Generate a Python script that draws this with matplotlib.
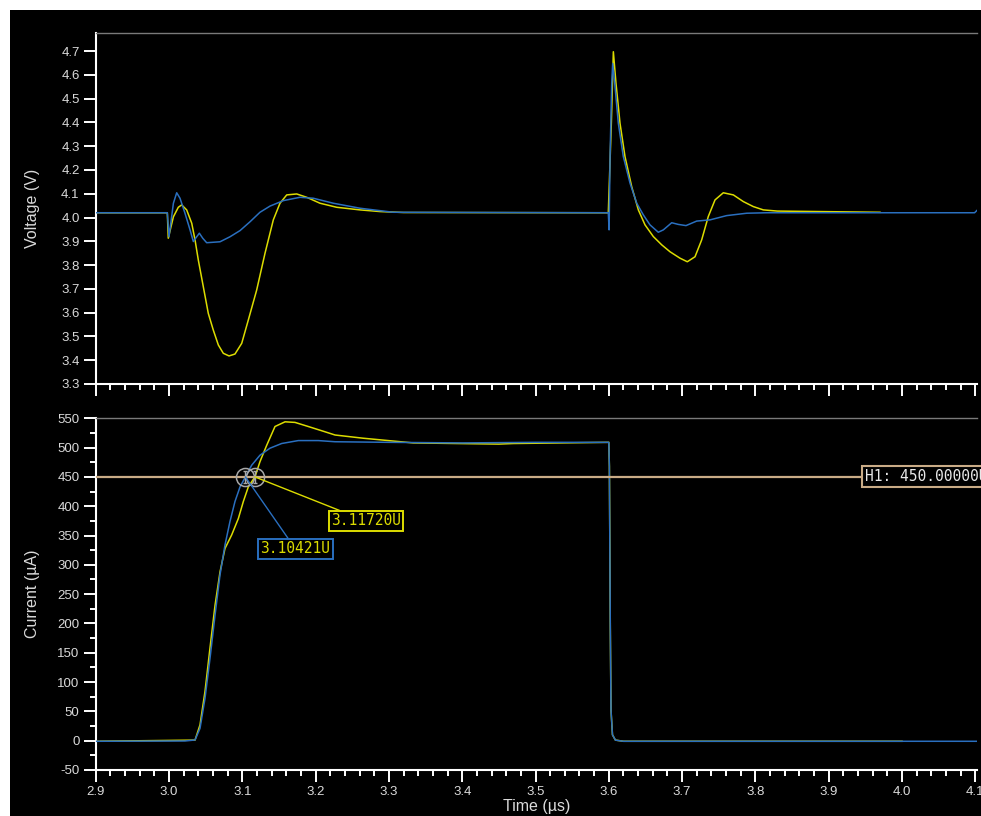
import numpy as np
import matplotlib
matplotlib.use("Agg")
import matplotlib.pyplot as plt
from matplotlib.patches import Rectangle
from matplotlib.path import Path
from matplotlib.ticker import MultipleLocator, FormatStrFormatter

# ---------------- data ----------------
volt_blue_t = [2.9, 2.9977, 3.0, 3.006, 3.0105, 3.015, 3.0218, 3.0287, 3.0332, 3.0378, 3.0414,
               3.046, 3.0514, 3.0696, 3.0832, 3.0969, 3.1105, 3.1241, 3.1378, 3.156, 3.1787,
               3.1969, 3.2242, 3.2606, 3.306, 3.5993, 3.6004, 3.6018, 3.604, 3.6053, 3.6085,
               3.613, 3.6198, 3.629, 3.6381, 3.6471, 3.6562, 3.6675, 3.6744, 3.6858, 3.6948,
               3.7053, 3.7199, 3.738, 3.7608, 3.7881, 3.816, 4.099, 4.1023]
volt_blue_v = [4.02, 4.02, 3.919, 4.06, 4.104, 4.081, 4.018, 3.948, 3.899, 3.919, 3.934,
               3.913, 3.894, 3.898, 3.919, 3.945, 3.982, 4.022, 4.048, 4.071, 4.085,
               4.081, 4.06, 4.039, 4.022, 4.02, 3.948, 4.27, 4.564, 4.648, 4.55,
               4.396, 4.256, 4.144, 4.06, 4.011, 3.969, 3.938, 3.948, 3.978, 3.971,
               3.966, 3.985, 3.99, 4.008, 4.018, 4.02, 4.02, 4.03]

volt_yel_t = [2.9, 2.9977, 2.999, 3.006, 3.0127, 3.0173, 3.0241, 3.031, 3.0355, 3.040, 3.0468,
              3.0536, 3.0604, 3.0673, 3.0741, 3.0819, 3.09, 3.0992, 3.1082, 3.1196, 3.131,
              3.1423, 3.1514, 3.1606, 3.1742, 3.1879, 3.206, 3.2288, 3.2606, 3.2879, 3.32,
              3.5993, 3.6035, 3.6062, 3.6098, 3.6153, 3.6221, 3.6312, 3.6403, 3.6494, 3.6607,
              3.6722, 3.6835, 3.6971, 3.7071, 3.7176, 3.7267, 3.7357, 3.7449, 3.7562, 3.7699,
              3.7835, 3.7971, 3.8108, 3.83, 3.97]
volt_yel_v = [4.02, 4.02, 3.913, 4.003, 4.043, 4.053, 4.032, 3.976, 3.906, 3.821, 3.709,
              3.597, 3.527, 3.464, 3.429, 3.418, 3.426, 3.471, 3.569, 3.695, 3.850,
              3.990, 4.060, 4.095, 4.099, 4.085, 4.060, 4.043, 4.032, 4.025, 4.021,
              4.02, 4.40, 4.697, 4.564, 4.396, 4.256, 4.13, 4.032, 3.969, 3.92,
              3.885, 3.856, 3.829, 3.814, 3.835, 3.906, 4.004, 4.074, 4.104, 4.095,
              4.067, 4.046, 4.032, 4.027, 4.022]

curr_blue_t = [2.9, 3.0218, 3.0355, 3.0423, 3.0491, 3.0559, 3.0628, 3.0696, 3.0764, 3.0832,
               3.09, 3.0969, 3.10421, 3.1128, 3.1241, 3.1378, 3.1537, 3.1764, 3.2037, 3.2265,
               3.3, 3.4, 3.5, 3.6, 3.6008, 3.602, 3.603, 3.605, 3.609, 3.62, 4.1023]
curr_blue_i = [-1, -0.5, 1.2, 21, 72, 140, 214, 283, 334, 374,
               408, 433, 450, 470, 487, 499, 507, 512, 512, 510,
               509, 508, 509, 509, 468, 200, 52, 10, 1, -1, -1]

curr_yel_t = [2.9, 3.0355, 3.0423, 3.0491, 3.0559, 3.0628, 3.0696, 3.0764, 3.0855, 3.0946,
              3.1014, 3.1082, 3.1172, 3.1241, 3.1333, 3.1446, 3.1583, 3.1719, 3.19, 3.2128,
              3.2265, 3.265, 3.333, 3.45, 3.47, 3.6, 3.6008, 3.602, 3.603, 3.605, 3.609,
              3.62, 4.0]
curr_yel_i = [-1, 1, 27, 84, 158, 231, 288, 328, 351, 379,
              408, 433, 450, 476, 504, 536, 544, 543, 536, 527,
              521.5, 516, 508, 506, 507, 509, 468, 200, 52, 10, 1,
              -1, -1]

cross_t = [3.10421, 3.11720]
cross_labels = ["3.10421U", "3.11720U"]
h1_level = 450.0
h1_label = "H1: 450.00000U"

# ---------------- style ----------------
YEL = "#dcdc00"
BLU = "#2a6fbf"
TAN = "#c9ab86"
TXT = "#dadada"
W, H = 981, 816

plt.rcParams["font.family"] = ["Liberation Sans", "DejaVu Sans"]

fig = plt.figure(figsize=(W / 100, H / 100), dpi=100, facecolor="white")
fig.patches.append(Rectangle((10 / W, 0), 1 - 10 / W, 1 - 10 / H, transform=fig.transFigure,
                             facecolor="black", edgecolor="none", zorder=-10))


def axpos(l, t, r, b):
    return [l / W, 1 - b / H, (r - l) / W, (b - t) / H]


ax1 = fig.add_axes(axpos(95.7, 32.7, 977, 384))
ax2 = fig.add_axes(axpos(95.7, 418.3, 977, 770))

for ax in (ax1, ax2):
    ax.set_facecolor("black")
    ax.spines["left"].set_color("white")
    ax.spines["bottom"].set_color("white")
    ax.spines["left"].set_linewidth(1.5)
    ax.spines["bottom"].set_linewidth(1.5)
    ax.spines["top"].set_color("#7a7a7a")
    ax.spines["top"].set_linewidth(1.0)
    ax.spines["right"].set_visible(False)
    ax.set_xlim(2.9, 4.1023)
    ax.xaxis.set_major_locator(MultipleLocator(0.1))
    ax.xaxis.set_minor_locator(MultipleLocator(0.02))
    ax.xaxis.set_major_formatter(FormatStrFormatter("%.1f"))
    ax.tick_params(which="major", direction="out", colors="white", length=8.6, width=1.4,
                   labelcolor=TXT, labelsize=9.5, pad=3)
    ax.tick_params(which="minor", direction="out", colors="white", length=4, width=1.4)
    ax.tick_params(axis="x", which="both", top=False)
    ax.tick_params(axis="y", which="both", right=False)

# top: voltage
ax1.set_ylim(3.3, 4.777)
ax1.yaxis.set_major_locator(MultipleLocator(0.1))
ax1.yaxis.set_major_formatter(FormatStrFormatter("%.1f"))
ax1.tick_params(axis="x", labelbottom=False)
ax1.plot(volt_yel_t, volt_yel_v, color=YEL, lw=1.1, zorder=2)
ax1.plot(volt_blue_t, volt_blue_v, color=BLU, lw=1.1, zorder=3)
ax1.set_ylabel("Voltage (V)", color=TXT, fontsize=11.5, va="center")
ax1.yaxis.set_label_coords((33 - 95.7) / (977 - 95.7), 0.5)

# bottom: current
ax2.set_ylim(-50, 550)
ax2.yaxis.set_major_locator(MultipleLocator(50))
ax2.yaxis.set_minor_locator(MultipleLocator(25))
ax2.yaxis.set_major_formatter(FormatStrFormatter("%d"))
ax2.plot(curr_yel_t, curr_yel_i, color=YEL, lw=1.1, zorder=2)
ax2.plot(curr_blue_t, curr_blue_i, color=BLU, lw=1.1, zorder=3)
ax2.set_ylabel("Current (\u00b5A)", color=TXT, fontsize=11.5, va="center")
ax2.yaxis.set_label_coords((33 - 95.7) / (977 - 95.7), 0.5)
ax2.set_xlabel("Time (\u00b5s)", color=TXT, fontsize=11.5, va="center")
ax2.xaxis.set_label_coords(0.5, (770 - 806) / (770 - 418.3))

# H1 cursor line
ax2.axhline(h1_level, color=TAN, lw=1.6, zorder=4)
ax2.text(3.9495, h1_level, h1_label, color="#e8e8e8", fontsize=10.5, family="DejaVu Sans Mono",
         ha="left", va="center", zorder=7, clip_on=False,
         bbox=dict(boxstyle="square,pad=0.2", fc="black", ec=TAN, lw=1.5))

# crossing markers
ibeam = Path([(-0.35, 1), (0.35, 1), (0, 1), (0, -1), (-0.35, -1), (0.35, -1)],
             [Path.MOVETO, Path.LINETO, Path.MOVETO, Path.LINETO, Path.MOVETO, Path.LINETO])
ax2.plot(cross_t, [h1_level] * 2, "o", ms=13, mfc="none", mec="#a8a8a8", mew=1.1, zorder=6)
ax2.plot(cross_t, [h1_level] * 2, marker=ibeam, ls="none", ms=9, mfc="none", mec="#a8a8a8",
         mew=1.0, zorder=6)

# annotations
ax2.annotate(cross_labels[0], xy=(cross_t[0], h1_level), xytext=(50, -72),
             textcoords="offset pixels", color=YEL, fontsize=10.5, family="DejaVu Sans Mono",
             ha="center", va="center", zorder=8,
             bbox=dict(boxstyle="square,pad=0.15", fc="black", ec=BLU, lw=1.4),
             arrowprops=dict(arrowstyle="-", color=BLU, lw=1.0, shrinkA=0, shrinkB=0))
ax2.annotate(cross_labels[1], xy=(cross_t[1], h1_level), xytext=(111, -44),
             textcoords="offset pixels", color=YEL, fontsize=10.5, family="DejaVu Sans Mono",
             ha="center", va="center", zorder=8,
             bbox=dict(boxstyle="square,pad=0.15", fc="black", ec=YEL, lw=1.4),
             arrowprops=dict(arrowstyle="-", color=YEL, lw=1.0, shrinkA=0, shrinkB=0))

fig.savefig("out.png", dpi=100, facecolor="white")
